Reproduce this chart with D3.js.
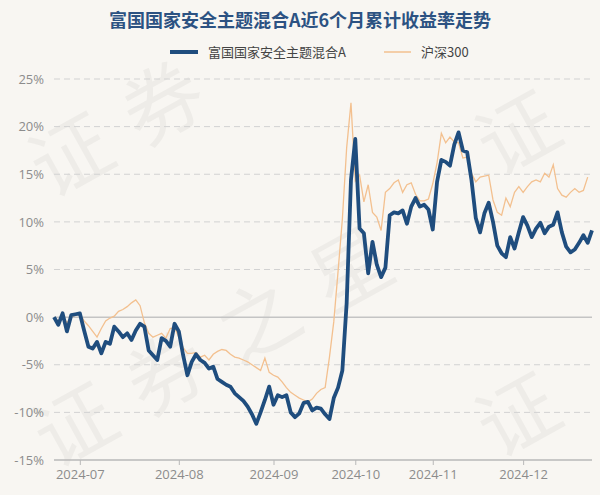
<!DOCTYPE html>
<html><head><meta charset="utf-8">
<script src="https://cdn.jsdelivr.net/npm/d3@7"></script>
<style>
html,body{margin:0;padding:0;background:#f8f6f2;}
svg{display:block;font-family:"Noto Sans CJK SC","Noto Sans",sans-serif;}
</style></head><body>
<svg id="chart" width="600" height="495"></svg>
<script>
const title = "富国国家安全主题混合A近6个月累计收益率走势";
const seriesNames = ["富国国家安全主题混合A", "沪深300"];
const monthLabels = ["2024-07","2024-08","2024-09","2024-10","2024-11","2024-12"];
const monthStartIndex = [6, 29, 51, 70, 88, 109];
const yTicks = [-15,-10,-5,0,5,10,15,20,25];
const fundValues = [0.0,-0.8,0.4,-1.5,0.2,0.3,0.4,-1.4,-3.1,-3.3,
 -2.6,-3.8,-2.6,-2.8,-1.0,-1.5,-2.1,-1.7,-2.4,-1.4,
 -0.7,-1.0,-3.5,-4.0,-4.5,-2.2,-2.5,-3.1,-0.7,-1.5,
 -4.0,-6.1,-4.7,-3.9,-4.5,-4.8,-5.4,-5.2,-6.5,-6.8,
 -7.1,-7.3,-8.0,-8.4,-8.8,-9.4,-10.2,-11.2,-10.0,-8.7,
 -7.3,-9.2,-8.2,-8.4,-8.2,-10.0,-10.5,-10.1,-9.0,-8.9,
 -9.8,-9.5,-9.6,-10.2,-10.7,-8.5,-7.4,-5.6,1.5,14.4,
 18.7,9.3,8.8,4.6,7.9,5.5,4.2,5.2,10.7,11.0,
 10.9,11.2,9.8,11.6,12.5,11.6,11.8,11.3,9.2,14.2,
 16.5,16.3,15.9,18.1,19.4,17.5,17.3,14.4,10.4,8.9,
 10.9,12.0,10.0,7.5,6.7,6.3,8.4,7.2,8.9,10.5,
 9.6,8.4,9.3,9.9,8.8,9.5,9.7,11.0,8.9,7.4,
 6.8,7.1,7.8,8.6,7.8,9.1];
const hs300Values = [0.0,-0.4,0.2,-0.6,0.0,0.2,0.3,-0.4,-0.9,-1.5,
 -2.1,-1.2,-0.4,-0.1,0.1,0.6,0.8,1.1,1.5,1.8,
 1.2,-0.6,-1.7,-2.1,-1.9,-1.7,-2.2,-1.2,-1.1,-2.1,
 -3.2,-3.8,-3.8,-3.7,-4.2,-4.0,-4.5,-3.9,-3.6,-3.4,
 -3.5,-3.9,-4.2,-4.3,-4.5,-4.7,-5.0,-5.3,-5.6,-4.3,
 -5.8,-6.1,-6.3,-6.8,-7.4,-7.9,-8.2,-8.5,-8.7,-8.9,
 -8.6,-8.0,-7.6,-7.4,-4.2,-0.5,4.8,10.3,17.8,22.5,
 14.3,14.9,12.1,13.9,11.0,10.5,9.1,13.1,13.5,14.1,
 14.4,13.1,13.9,14.1,12.9,12.2,12.2,12.4,14.0,16.2,
 19.3,18.3,18.9,18.4,18.3,16.7,16.8,15.1,14.2,14.7,
 14.8,14.9,12.3,11.0,10.7,12.5,11.6,13.1,13.7,13.1,
 13.7,14.2,14.4,14.2,15.1,14.7,16.0,13.5,12.8,12.6,
 13.1,13.5,13.1,13.3,14.7];
const colors = ["#1f4d7e", "#f3c08f"];
const watermarkText = "证券之星";

const svg = d3.select("#chart");
const W = 600, H = 495;
const m = {left: 54, right: 8, top: 79, bottom: 35};

// watermark: characters laid along tilted rows, keeping only ones fully inside the picture
const wm = svg.append("g").attr("fill", "#000").attr("fill-opacity", 0.04)
  .attr("font-size", 80).attr("font-family", "Noto Sans CJK SC")
  .attr("text-anchor", "middle").attr("dominant-baseline", "central");
const rowStarts = [[68, 150], [72, 420], [515, 128], [515, 410]];
const step = [92, -52];
rowStarts.forEach(p => {
  Array.from(watermarkText).forEach((ch, k) => {
    const cx = p[0] + k * step[0], cy = p[1] + k * step[1];
    if (cx - 64 < 0 || cx + 64 > W || cy - 72 < 0 || cy + 72 > H) return;
    wm.append("text").attr("transform", `translate(${cx},${cy}) rotate(-29)`).text(ch);
  });
});

const n = fundValues.length;
const x = d3.scaleLinear().domain([0, n - 1]).range([m.left, W - m.right]);
const y = d3.scaleLinear().domain([-15, 25]).range([H - m.bottom, m.top]);

// grid
const grid = svg.append("g");
yTicks.forEach(t => {
  grid.append("line").attr("x1", m.left).attr("x2", W - m.right)
    .attr("y1", y(t)).attr("y2", y(t))
    .attr("stroke", t === 0 ? "#c4c4c4" : (t === -15 ? "#b8b8b8" : "#d2d2d2"))
    .attr("stroke-width", t === 0 || t === -15 ? 1.5 : 1)
    .attr("stroke-dasharray", t === 0 || t === -15 ? null : "6,4");
});

// y axis labels
const yAxis = d3.axisLeft(y).tickValues(yTicks).tickFormat(d => d + "%").tickSize(0).tickPadding(10);
const gy = svg.append("g").attr("transform", `translate(${m.left},0)`).call(yAxis);
gy.select(".domain").remove();
gy.selectAll("text").attr("fill", "#8c8c8c").attr("font-size", 13).attr("font-family", "Open Sans, Noto Sans, sans-serif");

// x axis
const xAxis = d3.axisBottom(x).tickValues(monthStartIndex)
  .tickFormat((d, i) => monthLabels[i]).tickSize(5).tickPadding(5);
const gx = svg.append("g").attr("transform", `translate(0,${H - m.bottom})`).call(xAxis);
gx.select(".domain").remove();
gx.selectAll("line").attr("stroke", "#b8b8b8");
gx.selectAll("text").attr("fill", "#8c8c8c").attr("font-size", 13).attr("font-family", "Open Sans, Noto Sans, sans-serif");

// lines
const line = d3.line().x((d, i) => x(i)).y(d => y(d));
svg.append("path").datum(hs300Values).attr("d", line)
  .attr("fill", "none").attr("stroke", colors[1]).attr("stroke-width", 1.3);
svg.append("path").datum(fundValues).attr("d", line)
  .attr("fill", "none").attr("stroke", colors[0]).attr("stroke-width", 3.8)
  .attr("stroke-linejoin", "round");

// title
svg.append("text").attr("x", 300).attr("y", 27).attr("text-anchor", "middle")
  .attr("font-size", 18).attr("font-weight", "bold").attr("fill", "#2c5282")
  .attr("font-family", "Noto Sans CJK SC").text(title);

// legend
const lg = svg.append("g").attr("font-family", "Noto Sans CJK SC").attr("font-size", 13).attr("fill", "#444");
lg.append("line").attr("x1", 170).attr("x2", 198).attr("y1", 52).attr("y2", 52)
  .attr("stroke", colors[0]).attr("stroke-width", 4);
lg.append("text").attr("x", 208).attr("y", 57).text(seriesNames[0]);
lg.append("line").attr("x1", 384).attr("x2", 411).attr("y1", 52).attr("y2", 52)
  .attr("stroke", colors[1]).attr("stroke-width", 1.5);
lg.append("text").attr("x", 421).attr("y", 57).text(seriesNames[1]);
</script></body></html>
